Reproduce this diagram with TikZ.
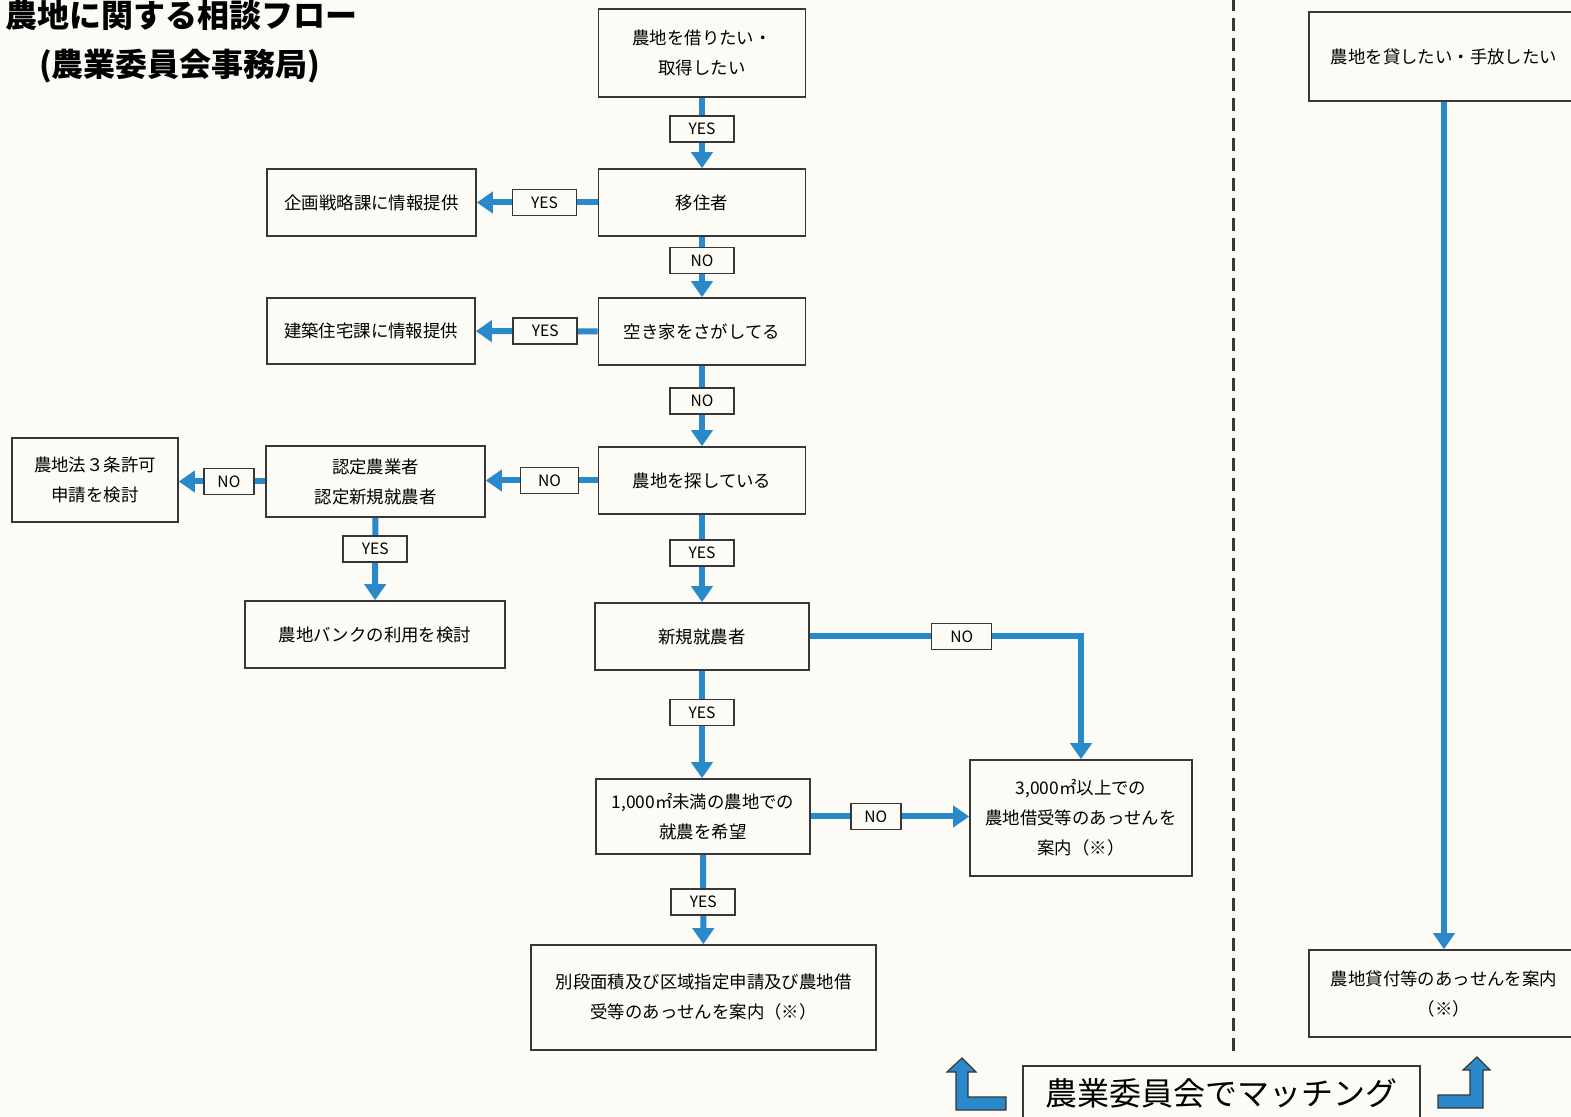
\documentclass[tikz,border=0pt]{standalone}
\usepackage{fontspec}
\setmainfont{Noto Sans CJK JP}
\usetikzlibrary{arrows.meta}
\definecolor{flowblue}{RGB}{42,137,202}
\definecolor{paper}{RGB}{252,251,246}
\definecolor{boxline}{RGB}{55,55,55}
\tikzset{
  box/.style={draw=boxline, line width=0.8pt, align=center, inner sep=2pt,
    font=\fontsize{8.7}{15}\selectfont},
  yesno/.style={draw=boxline, fill=paper, line width=0.8pt, inner sep=1pt,
    minimum width=32pt, minimum height=13pt, font=\fontsize{7.8}{9}\selectfont},
  narrow/.style={minimum width=25pt},
  flow/.style={draw=flowblue, line width=3pt, -{Triangle[width=10.5pt,length=8pt]}},
  blockarrow/.style={fill=flowblue, draw=boxline, line width=0.6pt},
}
\begin{document}
\begin{tikzpicture}[x=0.5pt,y=-0.5pt]
    \useasboundingbox[fill=paper] (0,0) rectangle (1571,1117);
    \node[anchor=west, font=\fontsize{16}{20}\selectfont\bfseries] (title) at (-2,15) {農地に関する相談フロー};
    \node[anchor=west, font=\fontsize{16}{20}\selectfont\bfseries] (subtitle) at (32,66) {(農業委員会事務局)};

    \node[box, minimum width=103.5pt, minimum height=44pt] (kariru) at (702,53) {農地を借りたい・\\取得したい};
    \node[box, minimum width=103.5pt, minimum height=33.5pt] (ijusha) at (702,202.5) {移住者};
    \node[box, minimum width=104.5pt, minimum height=33.5pt] (kikaku) at (371.5,202.5) {企画戦略課に情報提供};
    \node[box, minimum width=103.5pt, minimum height=33.5pt] (akiya) at (702,331.5) {空き家をさがしてる};
    \node[box, minimum width=104pt, minimum height=33pt] (kenchiku) at (371,331) {建築住宅課に情報提供};
    \node[box, minimum width=103.5pt, minimum height=33.5pt] (sagasu) at (702,480.5) {農地を探している};
    \node[box, minimum width=109.5pt, minimum height=35.5pt] (nintei) at (375.5,481.5) {認定農業者\\認定新規就農者};
    \node[box, minimum width=83pt, minimum height=42pt] (sanjo) at (95,480) {農地法３条許可\\申請を検討};
    \node[box, minimum width=130pt, minimum height=33.5pt] (bank) at (375,634.5) {農地バンクの利用を検討};
    \node[box, minimum width=107pt, minimum height=33.5pt] (shinki) at (702,636.5) {新規就農者};
    \node[box, minimum width=107pt, minimum height=37.5pt] (miman) at (703,816.5) {1,000㎡未満の農地での\\就農を希望};
    \node[box, minimum width=111pt, minimum height=58pt] (ijou) at (1081,818) {3,000㎡以上での\\農地借受等のあっせんを\\案内（※）};
    \node[box, minimum width=172.5pt, minimum height=52.5pt] (betsudan) at (703.5,997.5) {別段面積及び区域指定申請及び農地借\\受等のあっせんを案内（※）};

    \node[box, minimum width=135pt, minimum height=44.5pt] (kasu) at (1444,56.5) {農地を貸したい・手放したい};
    \node[box, minimum width=135pt, minimum height=43.5pt] (kashitsuke) at (1444,993.5) {農地貸付等のあっせんを案内\\（※）};

    \draw[flow] (kariru) -- node[yesno, pos=0.44] {YES} (ijusha);
    \draw[flow] (ijusha) -- node[yesno, pos=0.44] {YES} (kikaku);
    \draw[flow] (ijusha) -- node[yesno, pos=0.39] {NO} (akiya);
    \draw[flow] (akiya) -- node[yesno, pos=0.43] {YES} (kenchiku);
    \draw[flow] (akiya) -- node[yesno, pos=0.44] {NO} (sagasu);
    \draw[flow] (sagasu.west) -- node[yesno, narrow, minimum width=29pt, pos=0.43] {NO} (sagasu.west -| nintei.east);
    \draw[flow] (nintei.west) -- node[yesno, narrow, pos=0.42] {NO} (nintei.west -| sanjo.east);
    \draw[flow] (nintei) -- node[yesno, pos=0.38] {YES} (bank);
    \draw[flow] (sagasu) -- node[yesno, pos=0.44] {YES} (shinki);
    \draw[flow] (shinki.east) -| node[yesno, minimum width=30pt, pos=0.28] {NO} (ijou.north);
    \draw[flow] (shinki.south) -- node[yesno, pos=0.39] {YES} (shinki.south |- miman.north);
    \draw[flow] (miman.east) -- node[yesno, narrow, pos=0.41] {NO} (miman.east -| ijou.west);
    \draw[flow] (miman) -- node[yesno, pos=0.53] {YES} (betsudan);
    \draw[flow] (kasu) -- (kashitsuke);

    \draw[boxline, line width=1.5pt, dash pattern=on 6.5pt off 3.5pt] (1233,-2) -- (1233,1052);

    \node[draw=boxline, line width=0.8pt, minimum width=198.5pt, minimum height=27pt,
      font=\fontsize{16}{20}\selectfont] (matching) at (1221.5,1093) {農業委員会でマッチング};
    \draw[blockarrow] (956,1110) -- (956,1072) -- (947,1072) -- (962,1058) -- (976,1072) -- (968,1072)
      -- (968,1097) -- (1006,1097) -- (1006,1110) -- cycle;
    \draw[blockarrow] (1483,1108) -- (1483,1070) -- (1490,1070) -- (1477,1057) -- (1463,1070) -- (1470,1070)
      -- (1470,1095) -- (1438,1095) -- (1438,1108) -- cycle;
\end{tikzpicture}
\end{document}
